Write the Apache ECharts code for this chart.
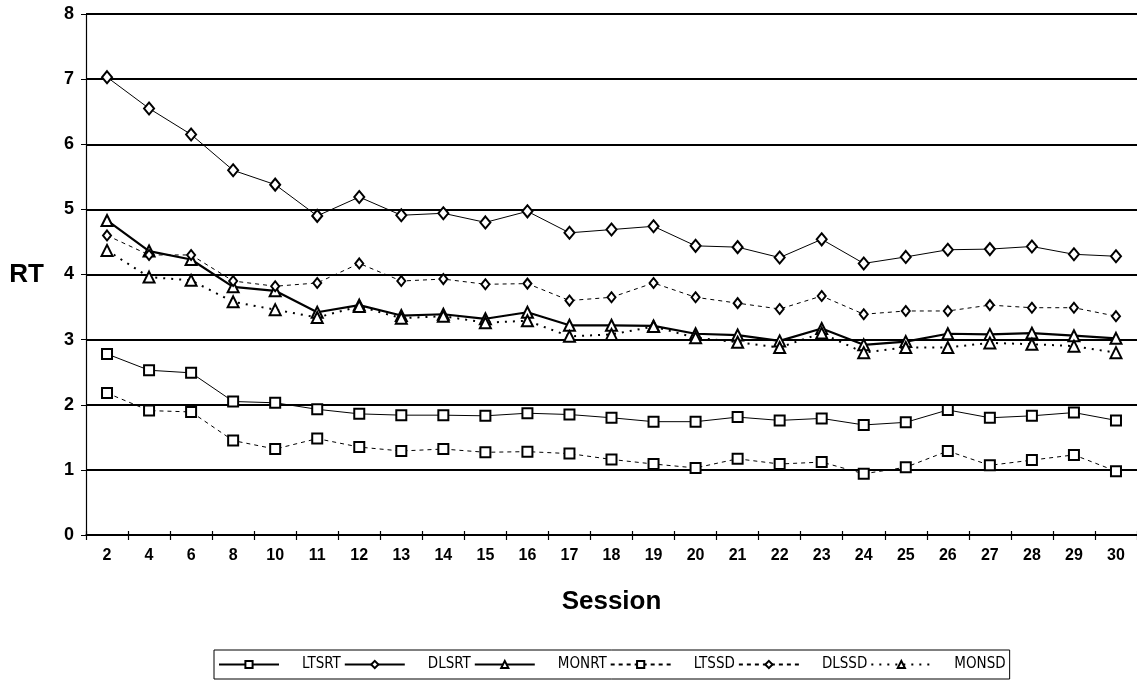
<!DOCTYPE html>
<html>
<head>
<meta charset="utf-8">
<script src="https://cdn.jsdelivr.net/npm/echarts@6/dist/echarts.min.js"></script>
<style>
html,body{margin:0;padding:0;background:#fff;}
#chart{width:1137px;height:686px;}
</style>
</head>
<body>
<div id="chart"></div>
<script>
const sessions = ['2','4','6','8','10','11','12','13','14','15','16','17','18','19','20','21','22','23','24','25','26','27','28','29','30'];
const LTSRT = [2.78,2.53,2.49,2.05,2.03,1.93,1.86,1.84,1.84,1.83,1.87,1.85,1.80,1.74,1.74,1.81,1.76,1.79,1.69,1.73,1.92,1.80,1.83,1.88,1.76];
const DLSRT = [7.03,6.55,6.15,5.60,5.38,4.90,5.19,4.91,4.94,4.80,4.97,4.64,4.69,4.74,4.44,4.42,4.26,4.54,4.17,4.27,4.38,4.39,4.43,4.31,4.28];
const MONRT = [4.83,4.36,4.23,3.81,3.75,3.42,3.53,3.37,3.39,3.32,3.42,3.22,3.22,3.21,3.09,3.07,2.98,3.17,2.92,2.97,3.09,3.08,3.10,3.06,3.02];
const LTSSD = [2.18,1.91,1.89,1.45,1.32,1.48,1.35,1.29,1.32,1.27,1.28,1.25,1.16,1.09,1.03,1.17,1.09,1.12,0.94,1.04,1.29,1.07,1.15,1.23,0.98];
const DLSSD = [4.60,4.30,4.30,3.90,3.82,3.87,4.17,3.90,3.93,3.85,3.86,3.60,3.65,3.87,3.65,3.56,3.47,3.67,3.39,3.44,3.44,3.53,3.49,3.49,3.36];
const MONSD = [4.37,3.96,3.91,3.58,3.46,3.34,3.51,3.33,3.36,3.26,3.29,3.05,3.08,3.20,3.03,2.96,2.88,3.10,2.80,2.88,2.88,2.95,2.93,2.90,2.80];
const yTicks = [0,1,2,3,4,5,6,7,8];

const FONT = 'Liberation Sans, Arial, Helvetica, sans-serif';
const NARROW = 'Liberation Sans Narrow, Arial Narrow, DejaVu Sans Condensed, sans-serif';

function mk(name, data, symbol, size, width, type){
  return {
    name: name, type: 'line', data: data,
    symbol: symbol, symbolSize: size,
    showAllSymbol: true,
    lineStyle: {color: '#000', width: width, type: type},
    itemStyle: {color: '#000', borderColor: '#000', borderWidth: 1.6},
    emphasis: {disabled: true},
    animation: false, z: 3
  };
}

const chart = echarts.init(document.getElementById('chart'), null, {renderer: 'canvas'});
chart.setOption({
  backgroundColor: '#fff',
  animation: false,
  grid: {left: 86, top: 14, width: 1057, height: 521, containLabel: false},
  xAxis: [{
    type: 'category', data: sessions, boundaryGap: true,
    axisLine: {lineStyle: {color: '#000', width: 1.5}},
    axisTick: {show: true, length: 5, lineStyle: {color: '#000', width: 1.2}},
    axisLabel: {color: '#000', fontFamily: FONT, fontSize: 16, fontWeight: 'bold', margin: 13, interval: 0},
    name: 'Session', nameLocation: 'middle', nameGap: 54,
    nameTextStyle: {color: '#000', fontFamily: FONT, fontSize: 26, fontWeight: 'bold'}
  },{
    type: 'category', data: sessions, boundaryGap: true, position: 'bottom',
    axisLine: {show: false},
    axisTick: {show: true, inside: true, length: 4, lineStyle: {color: '#000', width: 1.2}},
    axisLabel: {show: false}
  }],
  yAxis: {
    type: 'value', min: yTicks[0], max: yTicks[yTicks.length-1], interval: 1,
    axisLine: {show: true, lineStyle: {color: '#000', width: 1.2}},
    axisTick: {show: true, length: 5, lineStyle: {color: '#000'}},
    axisLabel: {color: '#000', fontFamily: FONT, fontSize: 18, fontWeight: 'bold', margin: 12},
    splitLine: {show: true, lineStyle: {color: '#000', width: 2}},
    name: 'RT', nameLocation: 'middle', nameRotate: 0, nameGap: 42,
    nameTextStyle: {color: '#000', fontFamily: FONT, fontSize: 26, fontWeight: 'bold'}
  },
  legend: {
    show: true, left: 214, top: 650,
    padding: [7, 4, 7, 4],
    borderColor: '#000', borderWidth: 1, borderRadius: 0,
    itemWidth: 60, itemHeight: 9, itemGap: 3,
    formatter: function(n){ return '{t|' + n + '}'; },
    textStyle: {
      color: '#000', fontFamily: NARROW, fontSize: 15,
      rich: {t: {color: '#000', fontFamily: NARROW, fontSize: 15, padding: [0,0,0,18]}}
    },
    data: ['LTSRT','DLSRT','MONRT','LTSSD','DLSSD','MONSD']
  },
  series: [
    mk('LTSRT', LTSRT, 'emptyRect', 10, 1, 'solid'),
    mk('DLSRT', DLSRT, 'emptyDiamond', [10,12], 1, 'solid'),
    mk('MONRT', MONRT, 'emptyTriangle', 11, 2.2, 'solid'),
    mk('LTSSD', LTSSD, 'emptyRect', 10, 1, [4,4]),
    mk('DLSSD', DLSSD, 'emptyDiamond', [8,10], 1, [4,4]),
    mk('MONSD', MONSD, 'emptyTriangle', 11, 2, [2,6])
  ]
});
</script>
</body>
</html>
